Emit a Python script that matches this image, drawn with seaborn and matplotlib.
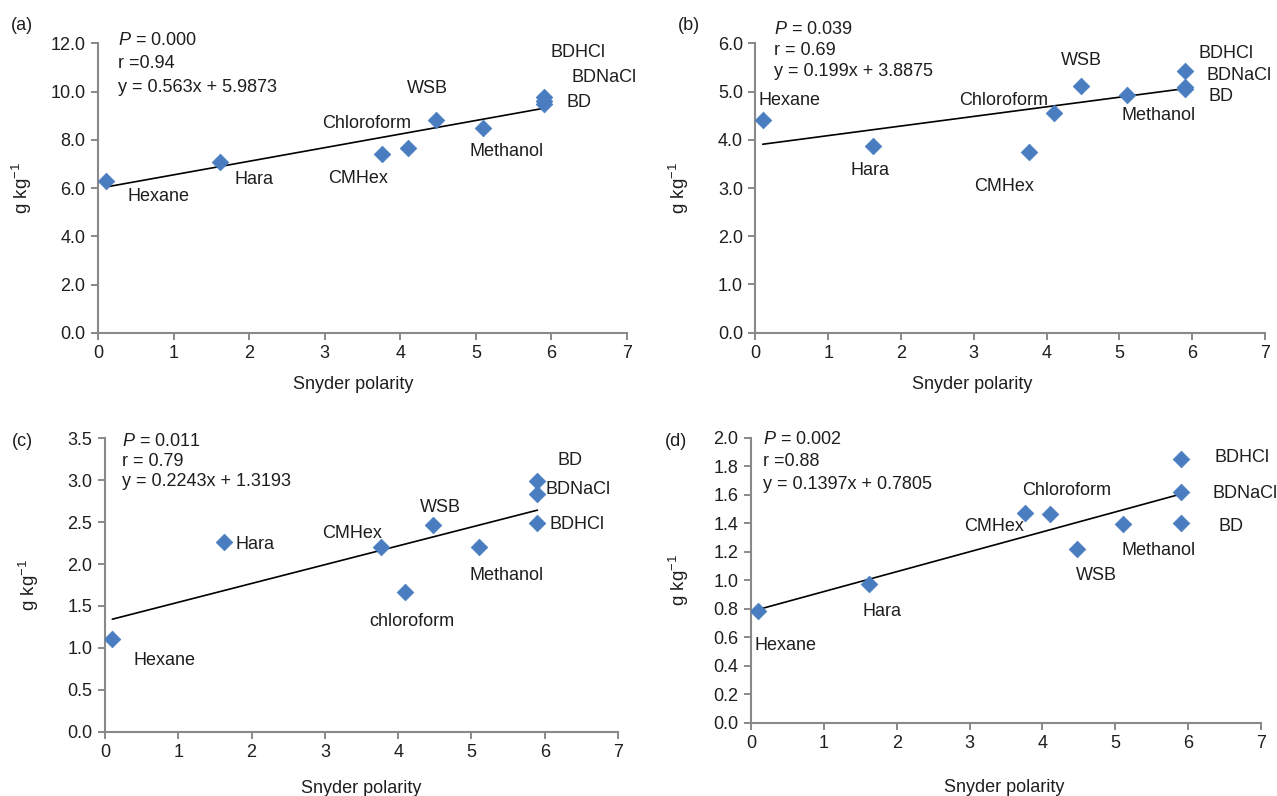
import matplotlib
matplotlib.use("Agg")
import matplotlib.pyplot as plt
import seaborn as sns
import numpy as np
import pandas as pd

# ---------------- data ----------------
solvents = ["Hexane", "Hara", "CMHex", "Chloroform", "WSB", "Methanol", "BD", "BDNaCl", "BDHCl"]
polarity = [0.1, 1.62, 3.76, 4.1, 4.47, 5.1, 5.9, 5.9, 5.9]

vals_a = [6.28, 7.10, 7.42, 7.68, 8.83, 8.51, 9.47, 9.62, 9.78]
vals_b = [4.41, 3.88, 3.75, 4.55, 5.12, 4.93, 5.05, 5.10, 5.42]
vals_c = [1.10, 2.26, 2.20, 1.67, 2.47, 2.20, 2.99, 2.83, 2.49]
vals_d = [0.786, 0.97, 1.474, 1.462, 1.219, 1.394, 1.404, 1.621, 1.848]

slopes = [0.563, 0.199, 0.2243, 0.1397]
intercepts = [5.9873, 3.8875, 1.3193, 0.7805]

stats_p = ["0.000", "0.039", "0.011", "0.002"]
stats_r = ["r =0.94", "r = 0.69", "r = 0.79", "r =0.88"]
stats_eq = ["y = 0.563x + 5.9873", "y = 0.199x + 3.8875",
            "y = 0.2243x + 1.3193", "y = 0.1397x + 0.7805"]

panel_letters = ["(a)", "(b)", "(c)", "(d)"]
y_max = [12.0, 6.0, 3.5, 2.0]
y_step = [2.0, 1.0, 0.5, 0.2]
x_ticks = [0, 1, 2, 3, 4, 5, 6, 7]

# label texts per panel (panel c uses lowercase chloroform)
labels_abd = solvents
labels_c = ["Hexane", "Hara", "CMHex", "chloroform", "WSB", "Methanol", "BD", "BDNaCl", "BDHCl"]

# ---------------- layout (positions) ----------------
axes_rects = [
    [0.0767, 0.5817, 0.4143, 0.3639],
    [0.5916, 0.5820, 0.3990, 0.3636],
    [0.0822, 0.0808, 0.4018, 0.3686],
    [0.5881, 0.0921, 0.3994, 0.3580],
]
label_pos = [
    [(0.39, 5.66), (1.81, 6.37), (3.05, 6.39), (2.97, 8.66), (4.09, 10.12),
     (4.91, 7.52), (6.20, 9.54), (6.27, 10.59), (5.99, 11.63)],
    [(0.04, 4.81), (1.30, 3.37), (3.01, 3.03), (2.80, 4.82), (4.20, 5.65),
     (5.03, 4.51), (6.23, 4.89), (6.19, 5.34), (6.08, 5.79)],
    [(0.39, 0.85), (1.78, 2.23), (2.96, 2.37), (3.61, 1.32), (4.29, 2.68),
     (4.97, 1.86), (6.18, 3.24), (6.01, 2.89), (6.07, 2.47)],
    [(0.045, 0.54), (1.53, 0.78), (2.93, 1.375), (3.72, 1.63), (4.46, 1.036),
     (5.08, 1.207), (6.42, 1.375), (6.33, 1.61), (6.36, 1.862)],
]
stats_pos = [
    [(0.27, 12.1), (0.27, 11.17), (0.27, 10.18)],
    [(0.26, 6.29), (0.26, 5.86), (0.26, 5.41)],
    [(0.23, 3.46), (0.23, 3.22), (0.23, 2.99)],
    [(0.16, 1.99), (0.16, 1.83), (0.16, 1.67)],
]
letter_pos = [(22 / 1277, 1 - 25 / 796), (689 / 1277, 1 - 25 / 796),
              (22 / 1277, 1 - 442 / 796), (676 / 1277, 1 - 442 / 796)]
ylabel_x = [-0.12, -0.127, -0.125, -0.118]
xlabel_xy = [(0.482, -0.148), (0.426, -0.15), (0.499, -0.165), (0.497, -0.197)]

# ---------------- style ----------------
sns.set_style("white")
plt.rcParams['font.family'] = ['Liberation Sans', 'DejaVu Sans']
plt.rcParams['mathtext.fontset'] = 'custom'
plt.rcParams['mathtext.rm'] = 'Liberation Sans'
plt.rcParams['mathtext.it'] = 'Liberation Sans:italic'
FS = 13
GREY = '#898989'
BLUE = '#4a7dc0'
TXT = '#1e1e1e'

fig = plt.figure(figsize=(12.77, 7.96), dpi=100)
fig.patch.set_facecolor('white')

all_vals = [vals_a, vals_b, vals_c, vals_d]

for i in range(4):
    ax = fig.add_axes(axes_rects[i])
    df = pd.DataFrame({"x": polarity, "y": all_vals[i]})
    # trend line
    xl = np.array([min(polarity), max(polarity)])
    line_df = pd.DataFrame({"x": xl, "y": slopes[i] * xl + intercepts[i]})
    sns.lineplot(data=line_df, x="x", y="y", ax=ax, color='black', linewidth=1.2, zorder=2)
    sns.scatterplot(data=df, x="x", y="y", ax=ax, marker='D', s=72, color=BLUE,
                    edgecolor=BLUE, linewidth=0.5, zorder=3)

    ax.set_xlim(0, 7)
    ax.set_ylim(0, y_max[i])
    ax.set_xticks(x_ticks)
    yt = np.arange(0, y_max[i] + y_step[i] / 2, y_step[i])
    ax.set_yticks(yt)
    ax.set_yticklabels([f"{v:.1f}" for v in yt])
    ax.tick_params(axis='both', which='major', bottom=True, left=True,
                   labelsize=FS, labelcolor=TXT, color=GREY, direction='out',
                   length=5, width=1.4, pad=4)
    for s in ['top', 'right']:
        ax.spines[s].set_visible(False)
    for s in ['left', 'bottom']:
        ax.spines[s].set_color(GREY)
        ax.spines[s].set_linewidth(1.5)

    ax.set_xlabel("Snyder polarity", fontsize=FS, color=TXT)
    ax.xaxis.set_label_coords(*xlabel_xy[i])
    ax.set_ylabel("g kg$^{-1}$", fontsize=FS + 0.5, color=TXT)
    ax.yaxis.set_label_coords(ylabel_x[i], 0.5)

    labs = labels_c if i == 2 else labels_abd
    for name, (lx, ly) in zip(labs, label_pos[i]):
        ax.text(lx, ly, name, fontsize=FS, ha='left', va='center', color=TXT,
                clip_on=False)

    sp = stats_pos[i]
    ax.text(sp[0][0], sp[0][1], "$\\it{P}$ = " + stats_p[i], fontsize=FS, ha='left',
            va='center', color=TXT, clip_on=False)
    ax.text(sp[1][0], sp[1][1], stats_r[i], fontsize=FS, ha='left', va='center',
            color=TXT, clip_on=False)
    ax.text(sp[2][0], sp[2][1], stats_eq[i], fontsize=FS, ha='left', va='center',
            color=TXT, clip_on=False)

    fig.text(letter_pos[i][0], letter_pos[i][1], panel_letters[i], fontsize=FS,
             ha='center', va='center', color=TXT)

fig.savefig("out.png", dpi=100, facecolor='white')
